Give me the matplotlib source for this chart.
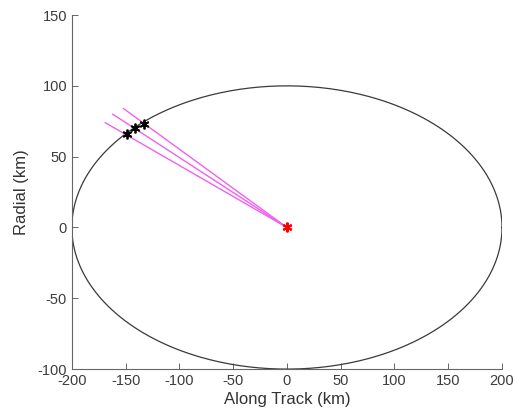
import numpy as np
import matplotlib
matplotlib.use("Agg")
import matplotlib.pyplot as plt

plt.rcParams['font.family'] = ['Liberation Sans', 'DejaVu Sans']
plt.rcParams['axes.unicode_minus'] = False

# Relative-motion ellipse semi-axes (km)
along_semi = 200.0
radial_semi = 100.0

# Line-of-sight start points (along track, radial) in km
los_along = [-169, -162, -152]
los_radial = [74, 80, 84]

# Intersection points on the ellipse
hit_along = [-149, -141, -133]
hit_radial = [66, 70, 73]

# Target at origin
target = (0, 0)

asterisk = (6, 2, 0)

fig = plt.figure(figsize=(5.17, 4.18), dpi=100)
ax = fig.add_axes([0.139, 0.117, 0.832, 0.847])

theta = np.linspace(0, 2 * np.pi, 400)
ax.plot(along_semi * np.cos(theta), radial_semi * np.sin(theta),
        color='#3a3a3a', lw=0.9)

for xa, ya in zip(los_along, los_radial):
    ax.plot([xa, target[0]], [ya, target[1]], color='#f060f0', lw=1.0)

ax.plot(hit_along, hit_radial, linestyle='none', marker=asterisk,
        color='black', markersize=7, markeredgewidth=1.3)
ax.plot([target[0]], [target[1]], linestyle='none', marker=asterisk,
        color='red', markersize=7, markeredgewidth=1.5)

ax.set_xlim(-200, 200)
ax.set_ylim(-100, 150)
ax.set_xticks(np.arange(-200, 201, 50))
ax.set_yticks(np.arange(-100, 151, 50))

for side in ('top', 'right'):
    ax.spines[side].set_visible(False)
for side in ('left', 'bottom'):
    ax.spines[side].set_color('#666666')
    ax.spines[side].set_linewidth(0.8)

ax.tick_params(direction='in', length=4, width=0.7, colors='#666666',
               labelcolor='#3c3c3c', labelsize=10.5)
ax.set_xlabel('Along Track (km)', fontsize=12, color='#333333', labelpad=3)
ax.set_ylabel('Radial (km)', fontsize=12, color='#333333', labelpad=6)

fig.savefig('out.png', dpi=100)
